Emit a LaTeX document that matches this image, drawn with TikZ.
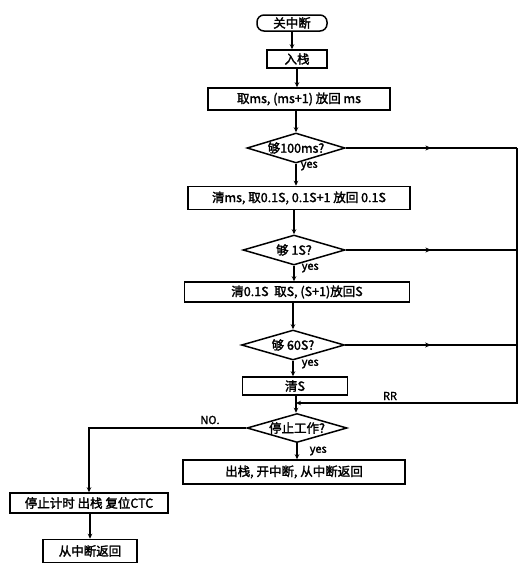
\documentclass[tikz,border=0pt]{standalone}
\usepackage{fontspec}
\newfontfamily\cjk[AutoFakeBold=2]{Noto Sans CJK SC}
\usetikzlibrary{shapes.geometric,arrows.meta,decorations.markings}
\begin{document}
\begin{tikzpicture}[x=1pt,y=-1pt, line width=1.5pt,
  every node/.style={font=\cjk\bfseries\fontsize{12.5}{13}\selectfont},
  box/.style={draw, rectangle, inner sep=1pt, align=center},
  dec/.style={draw, diamond, aspect=3.3, inner sep=0pt},
  arr/.style={-{Stealth[length=5pt,width=4.5pt]}},
  lbl/.style={font=\cjk\bfseries\fontsize{11}{12}\selectfont, inner sep=1pt},
  midarr/.style={postaction={decorate}, decoration={markings, mark=at position 0.5 with {\arrow{Stealth[length=6pt,width=5pt]}}}}
]
\path[use as bounding box] (0,0) rectangle (524,571);

\node[box, rounded corners=7pt, minimum width=70pt, minimum height=16pt] (n0) at (292,23) {关中断};
\node[box, minimum width=60pt, minimum height=18pt] (n1) at (297,59) {入栈};
\node[box, minimum width=182pt, minimum height=22pt] (n2) at (299,99) {取ms, (ms+1) 放回 ms};
\node[dec, minimum width=98pt, minimum height=30pt] (d1) at (296,148) {够100ms?};
\node[box, minimum width=222pt, minimum height=23pt] (n3) at (299,198) {清ms, 取0.1S, 0.1S+1 放回 0.1S};
\node[dec, minimum width=102pt, minimum height=30pt] (d2) at (294,250) {够 1S?};
\node[box, minimum width=225pt, minimum height=20pt] (n4) at (297,292) {清0.1S \ 取S, (S+1)放回S};
\node[dec, minimum width=103pt, minimum height=30pt] (d3) at (293,345) {够 60S?};
\node[box, minimum width=105pt, minimum height=18pt] (n5) at (295,386) {清S};
\node[dec, minimum width=100pt, minimum height=29pt] (d4) at (297,428) {停止工作?};
\node[box, minimum width=222pt, minimum height=24pt] (n6) at (294,472) {出栈, 开中断, 从中断返回};
\node[box, minimum width=158pt, minimum height=20pt] (n7) at (89,503) {停止计时 出栈 复位CTC};
\node[box, minimum width=94pt, minimum height=23pt] (n8) at (90,551) {从中断返回};

\coordinate (j) at (296,403);
\coordinate (rt) at (517,403);

\draw[arr] (n0.south) -- (n0.south |- n1.north);
\draw[arr] (n1.south) -- (n1.south |- n2.north);
\draw[arr] (n2.south -| d1.north) -- (d1.north);
\draw[arr] (d1.south) -- (d1.south |- n3.north);
\draw[arr] (n3.south -| d2.north) -- (d2.north);
\draw[arr] (d2.south) -- (d2.south |- n4.north);
\draw[arr] (n4.south -| d3.north) -- (d3.north);
\draw[arr] (d3.south) -- (d3.south |- n5.north);
\draw[arr] (n5.south -| j) -- (j |- d4.north);
\draw[arr] (d4.south) -- (d4.south |- n6.north);
\draw[arr] (d4.west) -| (n7.north);
\draw[arr] (n7.south -| n8.north) -- (n8.north);

\draw[midarr] (d1.east) -- (d1.east -| rt);
\draw[midarr] (d2.east) -- (d2.east -| rt);
\draw[midarr] (d3.east) -- (d3.east -| rt);
\draw[arr] (d1.east -| rt) -- (rt) -- (j);

\node[lbl, anchor=west] (y1) at (299,166) {yes};
\node[lbl, anchor=west] (y2) at (300,268) {yes};
\node[lbl, anchor=west] (y3) at (300,364) {yes};
\node[lbl, anchor=west] (y4) at (308,451) {yes};
\node[lbl] (rr) at (390,396) {RR};
\node[lbl] (no) at (210,420) {NO.};
\end{tikzpicture}
\end{document}
